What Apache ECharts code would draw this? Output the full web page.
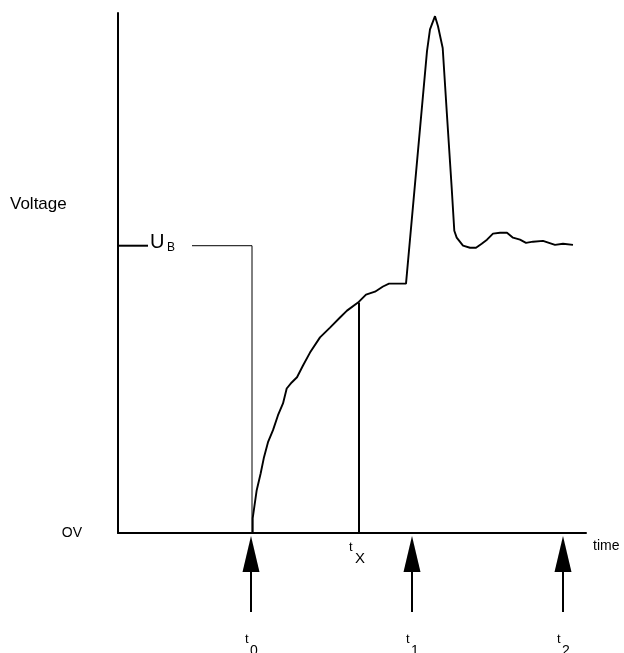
<!DOCTYPE html>
<html><head><meta charset="utf-8">
<script src="https://cdn.jsdelivr.net/npm/echarts@6/dist/echarts.min.js"></script>
<style>html,body{margin:0;padding:0;background:#fff}#c{width:624px;height:653px}</style>
</head><body><div id="c"></div>
<script>
// time (arbitrary units) and voltage (in units of U_B)
const timeValues = [13.47, 13.47, 13.87, 14.27, 14.6, 15.0, 15.5, 16.0, 16.5, 16.87, 17.37, 17.9, 18.5, 19.2, 20.2, 21.2, 22.2, 22.9, 24.0, 24.8, 25.7, 26.5, 27.1, 28.8, 30.9, 31.2, 31.7, 32.0, 32.47, 32.87, 33.37, 33.63, 33.87, 34.5, 35.2, 35.8, 36.37, 36.9, 37.5, 38.2, 38.9, 39.5, 40.2, 40.8, 41.5, 42.5, 43.1, 43.7, 44.5, 45.5];
const voltageValues = [0, 0.052, 0.149, 0.208, 0.264, 0.316, 0.358, 0.410, 0.451, 0.503, 0.524, 0.542, 0.583, 0.628, 0.681, 0.715, 0.750, 0.774, 0.802, 0.830, 0.840, 0.858, 0.868, 0.868, 1.677, 1.753, 1.799, 1.764, 1.688, 1.469, 1.201, 1.052, 1.028, 1.0, 0.993, 0.993, 1.007, 1.021, 1.042, 1.045, 1.045, 1.028, 1.021, 1.010, 1.014, 1.017, 1.010, 1.003, 1.007, 1.003];
const markerSubs = ['0', '1', '2'];
const markerTimes = [13.3, 29.4, 44.5];
const t0 = 13.4;
const tX = 24.1;
const tXVoltage = 0.802;
const UB = 1.0;
const ubTickEnd = 3.0;
const ubLineStart = 7.4;

const FONT = '"Liberation Sans", Arial, Helvetica, sans-serif';
const chart = echarts.init(document.getElementById('c'));

function subLabel(x, y, main, sub, mainSize, subSize, dx1, dy1, dx2, dy2) {
  return [
    {type: 'text', x: x + dx1, y: y + dy1, style: {text: main, fill: '#000', font: mainSize + 'px ' + FONT, textAlign: 'left', textVerticalAlign: 'middle'}},
    {type: 'text', x: x + dx2, y: y + dy2, style: {text: sub, fill: '#000', font: subSize + 'px ' + FONT, textAlign: 'left', textVerticalAlign: 'middle'}}
  ];
}

chart.setOption({
  animation: false,
  backgroundColor: '#fff',
  grid: {left: 118, right: 38, top: 13, bottom: 120},
  xAxis: {
    type: 'value', min: 0, max: 46.8,
    axisLine: {show: true, lineStyle: {color: '#000', width: 2}},
    axisTick: {show: false}, axisLabel: {show: false}, splitLine: {show: false},
    name: 'time', nameLocation: 'end', nameGap: 7,
    nameTextStyle: {color: '#000', fontFamily: FONT, fontSize: 14, verticalAlign: 'top', padding: [6, 0, 0, 0]}
  },
  yAxis: {
    type: 'value', min: 0, max: 1.81, interval: 0.5,
    axisLine: {show: true, lineStyle: {color: '#000', width: 2}},
    axisTick: {show: false}, splitLine: {show: false},
    axisLabel: {show: true, margin: 36, color: '#000', fontFamily: FONT, fontSize: 14,
      formatter: v => (v === 0 ? 'OV' : ''), padding: [0, 0, 14, 0]}
  },
  graphic: [
    {type: 'text', left: 10, top: 196, style: {text: 'Voltage', fill: '#000', font: '17px ' + FONT}}
  ],
  series: [
    {type: 'line', data: timeValues.map((t, i) => [t, voltageValues[i]]), symbol: 'none', clip: false,
      lineStyle: {color: '#000', width: 1.9}},
    {type: 'line', data: [[0, UB], [ubTickEnd, UB]], symbol: 'none', lineStyle: {color: '#000', width: 2}},
    {type: 'line', data: [[ubLineStart, UB], [t0, UB], [t0, 0]], symbol: 'none', lineStyle: {color: '#000', width: 1}},
    {type: 'line', data: [[tX, 0], [tX, tXVoltage]], symbol: 'none', lineStyle: {color: '#000', width: 2}},
    {type: 'custom', clip: false, data: markerTimes.map((t, i) => [t, 0, i]),
      renderItem: (params, api) => {
        const p = api.coord([api.value(0), 0]);
        const sub = markerSubs[api.value(2)];
        return {type: 'group', children: [
          {type: 'polygon', shape: {points: [[p[0], p[1] + 3], [p[0] - 8.5, p[1] + 39], [p[0] + 8.5, p[1] + 39]]}, style: {fill: '#000'}},
          {type: 'line', shape: {x1: p[0], y1: p[1] + 38, x2: p[0], y2: p[1] + 79}, style: {stroke: '#000', lineWidth: 2}}
        ].concat(subLabel(p[0], p[1], 't', sub, 13, 14, -6, 106, -1, 118))};
      }},
    {type: 'custom', clip: false, data: [[tX, 0]],
      renderItem: (params, api) => {
        const p = api.coord([api.value(0), 0]);
        return {type: 'group', children: subLabel(p[0], p[1], 't', 'X', 13, 15, -10, 14, -4, 26)};
      }},
    {type: 'custom', clip: false, data: [[0, UB]],
      renderItem: (params, api) => {
        const p = api.coord([api.value(0), api.value(1)]);
        return {type: 'group', children: subLabel(p[0], p[1], 'U', 'B', 20, 12, 32, -3, 49, 2)};
      }}
  ]
});
</script></body></html>
